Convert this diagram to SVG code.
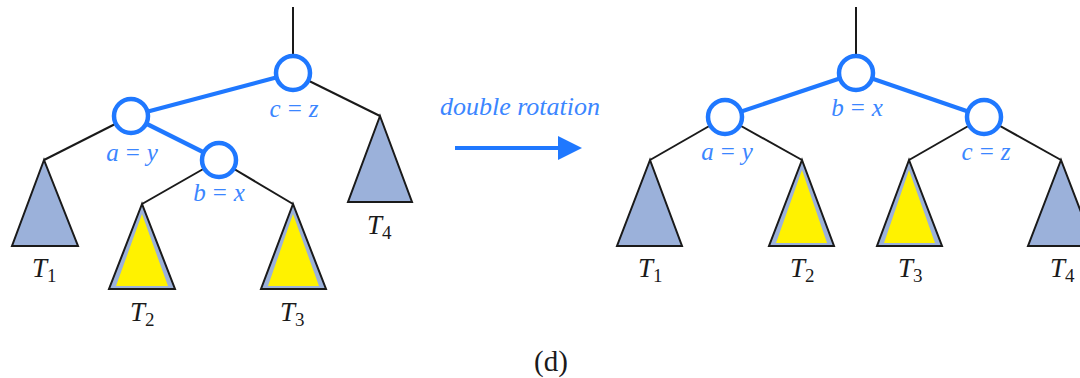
<svg xmlns="http://www.w3.org/2000/svg" width="1080" height="378" viewBox="0 0 1080 378">
<style>
.edge{stroke:#1a1a1a;stroke-width:2;fill:none}
.bedge{stroke:#1f78ff;stroke-width:4.2;fill:none}
.node{fill:#fff;stroke:#1f78ff;stroke-width:4.5}
.lbl{font-size:25px;fill:#3b86ff;text-anchor:middle}
.it{font-style:italic}
.tri{fill:#9bb1da;stroke:#1a1a1a;stroke-width:2;stroke-linejoin:miter}
.yel{fill:#fff200;stroke:none}
.tl{font-size:27px;fill:#1a1a1a}
.sub{font-style:normal;font-size:19px}
text{font-family:'Liberation Serif','Times New Roman',Times,'DejaVu Serif',serif}
</style>
<defs>
<marker id="ah" markerWidth="7" markerHeight="6" refX="1" refY="3" orient="auto" markerUnits="strokeWidth">
<path d="M0,0 L6,3 L0,6 Z" fill="#1f78ff"/>
</marker>
</defs>
<rect width="1080" height="378" fill="#fff"/>
<g id="connectors">
<line class="edge" x1="293" y1="7" x2="293" y2="73"/>
<line class="edge" x1="293" y1="73" x2="380" y2="116"/>
<line class="edge" x1="131" y1="116" x2="44" y2="160"/>
<line class="edge" x1="219" y1="160" x2="142" y2="204"/>
<line class="edge" x1="219" y1="160" x2="293" y2="204"/>
<line class="bedge" x1="131" y1="116" x2="293" y2="73"/>
<line class="bedge" x1="131" y1="116" x2="219" y2="160"/>
<line class="edge" x1="856" y1="7" x2="856" y2="73"/>
<line class="edge" x1="725" y1="117" x2="650" y2="160"/>
<line class="edge" x1="725" y1="117" x2="802" y2="160"/>
<line class="edge" x1="984" y1="117" x2="909" y2="160"/>
<line class="edge" x1="984" y1="117" x2="1061" y2="160"/>
<line class="bedge" x1="856" y1="73" x2="725" y2="117"/>
<line class="bedge" x1="856" y1="73" x2="984" y2="117"/>
<line x1="455" y1="148" x2="562" y2="148" stroke="#1f78ff" stroke-width="4" marker-end="url(#ah)"/>
</g>
<text class="lbl it" x="520" y="115" style="font-size:26px">double rotation</text>
<g id="L_c">
<circle class="node" cx="293" cy="73" r="17"/>
<text class="lbl" x="294" y="117"><tspan class="it">c</tspan><tspan dx="7">=</tspan><tspan class="it" dx="7">z</tspan></text>
</g>
<g id="L_a">
<circle class="node" cx="131" cy="116" r="17"/>
<text class="lbl" x="132" y="161"><tspan class="it">a</tspan><tspan dx="7">=</tspan><tspan class="it" dx="7">y</tspan></text>
</g>
<g id="L_b">
<circle class="node" cx="219" cy="160" r="17"/>
<text class="lbl" x="219" y="201"><tspan class="it">b</tspan><tspan dx="7">=</tspan><tspan class="it" dx="7">x</tspan></text>
</g>
<g id="L_T1">
<polygon class="tri" points="44,160 12,246 78,246"/>
<text class="tl" x="32" y="277"><tspan class="it">T</tspan><tspan class="sub" dy="5">1</tspan></text>
</g>
<g id="L_T2">
<polygon class="tri" points="142,204 109,289 175,289"/>
<polygon class="yel" points="142,214 116,286 168,286"/>
<text class="tl" x="130" y="321"><tspan class="it">T</tspan><tspan class="sub" dy="5">2</tspan></text>
</g>
<g id="L_T3">
<polygon class="tri" points="293,204 261,289 326,289"/>
<polygon class="yel" points="293,214 268,286 319,286"/>
<text class="tl" x="280" y="321"><tspan class="it">T</tspan><tspan class="sub" dy="5">3</tspan></text>
</g>
<g id="L_T4">
<polygon class="tri" points="380,116 348,202 412,202"/>
<text class="tl" x="367" y="234"><tspan class="it">T</tspan><tspan class="sub" dy="5">4</tspan></text>
</g>
<g id="R_b">
<circle class="node" cx="856" cy="73" r="17"/>
<text class="lbl" x="857" y="116"><tspan class="it">b</tspan><tspan dx="7">=</tspan><tspan class="it" dx="7">x</tspan></text>
</g>
<g id="R_a">
<circle class="node" cx="725" cy="117" r="17"/>
<text class="lbl" x="727" y="160"><tspan class="it">a</tspan><tspan dx="7">=</tspan><tspan class="it" dx="7">y</tspan></text>
</g>
<g id="R_c">
<circle class="node" cx="984" cy="117" r="17"/>
<text class="lbl" x="986" y="160"><tspan class="it">c</tspan><tspan dx="7">=</tspan><tspan class="it" dx="7">z</tspan></text>
</g>
<g id="R_T1">
<polygon class="tri" points="650,160 617,246 682,246"/>
<text class="tl" x="638" y="277"><tspan class="it">T</tspan><tspan class="sub" dy="5">1</tspan></text>
</g>
<g id="R_T2">
<polygon class="tri" points="802,160 769,246 834,246"/>
<polygon class="yel" points="802,170 776,243 827,243"/>
<text class="tl" x="790" y="277"><tspan class="it">T</tspan><tspan class="sub" dy="5">2</tspan></text>
</g>
<g id="R_T3">
<polygon class="tri" points="909,160 877,246 942,246"/>
<polygon class="yel" points="909,170 884,243 935,243"/>
<text class="tl" x="898" y="277"><tspan class="it">T</tspan><tspan class="sub" dy="5">3</tspan></text>
</g>
<g id="R_T4">
<polygon class="tri" points="1061,160 1028,246 1094,246"/>
<text class="tl" x="1050" y="277"><tspan class="it">T</tspan><tspan class="sub" dy="5">4</tspan></text>
</g>
<text x="551" y="371" style="font-size:29px" fill="#1a1a1a" text-anchor="middle">(d)</text>
</svg>
